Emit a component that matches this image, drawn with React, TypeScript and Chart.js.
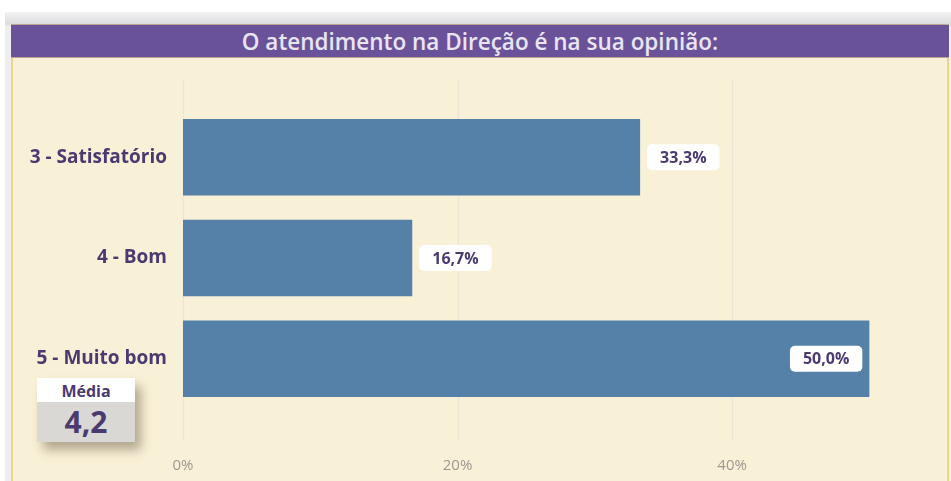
import React, { useEffect, useRef } from "react";
import { Chart, registerables } from "chart.js";

Chart.register(...registerables);

const title = "O atendimento na Direção é na sua opinião:";
const categories = ["3 - Satisfatório", "4 - Bom", "5 - Muito bom"];
const values = [33.3, 16.7, 50.0];
const valueLabels = ["33,3%", "16,7%", "50,0%"];
const xTicks = [0, 20, 40];
const xMax = 55;
const averageLabel = "Média";
const averageValue = "4,2";

const PURPLE_TEXT = "#4a3a70";
const FONT = "'Open Sans', 'Noto Sans', sans-serif";

const gridPlugin = {
  id: "extGrid",
  beforeDatasetsDraw(chart: any) {
    const ctx = chart.ctx;
    const xs = chart.scales.x;
    ctx.save();
    ctx.strokeStyle = "#ebe6d9";
    ctx.lineWidth = 1.5;
    for (const v of xTicks) {
      const x = Math.round(xs.getPixelForValue(v)) + 0.5;
      ctx.beginPath();
      ctx.moveTo(x, 22);
      ctx.lineTo(x, 382);
      ctx.stroke();
    }
    ctx.restore();
  },
};

const labelPlugin = {
  id: "valueLabels",
  afterDatasetsDraw(chart: any) {
    const ctx = chart.ctx;
    const meta = chart.getDatasetMeta(0);
    ctx.save();
    ctx.font = `bold 16px ${FONT}`;
    meta.data.forEach((bar: any, i: number) => {
      const text = valueLabels[i];
      const w = ctx.measureText(text).width + 26;
      const h = 26;
      const inside = values[i] >= 45;
      const left = inside ? bar.x - 7 - w : bar.x + 7;
      const top = bar.y - h / 2;
      ctx.fillStyle = "#ffffff";
      ctx.beginPath();
      (ctx as any).roundRect(left, top, w, h, 5);
      ctx.fill();
      ctx.fillStyle = PURPLE_TEXT;
      ctx.textAlign = "center";
      ctx.textBaseline = "middle";
      ctx.fillText(text, left + w / 2, bar.y + 1);
    });
    ctx.restore();
  },
};

export default function App() {
  const ref = useRef<HTMLCanvasElement>(null);

  useEffect(() => {
    const chart = new Chart(ref.current!, {
      type: "bar",
      data: {
        labels: categories,
        datasets: [
          {
            data: values,
            backgroundColor: "#5581a8",
            borderWidth: 0,
            barPercentage: 0.76,
            categoryPercentage: 1,
          },
        ],
      },
      options: {
        indexAxis: "y",
        animation: false,
        responsive: false,
        maintainAspectRatio: false,
        layout: { padding: { left: 0, right: 11, top: 49, bottom: 0 } },
        plugins: {
          legend: { display: false },
          tooltip: { enabled: false },
          title: { display: false },
        },
        scales: {
          x: {
            min: 0,
            max: xMax,
            grid: { display: false },
            border: { display: false },
            afterBuildTicks(scale: any) {
              scale.ticks = xTicks.map((v) => ({ value: v }));
            },
            afterFit(scale: any) {
              scale.height = 72;
            },
            ticks: {
              stepSize: 20,
              padding: 40,
              color: "#9e988e",
              font: { family: FONT, size: 15 },
              callback: (v: any) => v + "%",
            },
          },
          y: {
            grid: { display: false },
            border: { display: false },
            afterFit(scale: any) {
              scale.width = 171;
            },
            ticks: {
              padding: 8,
              color: PURPLE_TEXT,
              font: { family: FONT, size: 19, weight: "bold" },
            },
          },
        },
      },
      plugins: [gridPlugin, labelPlugin],
    });
    return () => chart.destroy();
  }, []);

  return (
    <div
      style={{
        position: "fixed",
        left: 0,
        top: 0,
        width: 951,
        height: 481,
        background: "#ffffff",
        overflow: "hidden",
        fontFamily: FONT,
      }}
    >
      <div
        style={{
          position: "absolute",
          left: 5,
          top: 12,
          width: 946,
          height: 469,
          background: "linear-gradient(#f3f3f4 0px, #dcdcde 12px, #eeeef0 14px, #eeeef0 100%)",
        }}
      />
      <div
        style={{
          position: "absolute",
          left: 11,
          top: 24,
          width: 938,
          height: 457,
          background: "#f9f1d7",
          borderLeft: "2px solid #ecd68e",
          borderRight: "2px solid #ecd68e",
          boxSizing: "border-box",
        }}
      />
      <div
        style={{
          position: "absolute",
          left: 11,
          top: 24,
          width: 938,
          height: 34,
          background: "#6a529a",
          borderTop: "1px solid #b9a68f",
          borderBottom: "1px solid #b9a68f",
          boxSizing: "border-box",
          color: "#e9e5f0",
          fontSize: 22.5,
          fontWeight: 600,
          textAlign: "center",
          lineHeight: "33px",
          whiteSpace: "nowrap",
        }}
      >
        {title}
      </div>
      <canvas
        ref={ref}
        width={937}
        height={423}
        style={{ position: "absolute", left: 12, top: 58, width: 937, height: 423 }}
      />
      <div
        style={{
          position: "absolute",
          left: 37,
          top: 378,
          width: 98,
          height: 64,
          boxShadow: "6px 8px 10px rgba(90,80,60,0.45)",
          zIndex: 2,
        }}
      >
        <div
          style={{
            height: 24,
            background: "#ffffff",
            color: PURPLE_TEXT,
            fontSize: 16,
            fontWeight: 700,
            textAlign: "center",
            lineHeight: "26px",
          }}
        >
          {averageLabel}
        </div>
        <div
          style={{
            height: 40,
            background: "#d9d8d5",
            color: PURPLE_TEXT,
            fontSize: 30,
            fontWeight: 700,
            textAlign: "center",
            lineHeight: "40px",
          }}
        >
          {averageValue}
        </div>
      </div>
    </div>
  );
}
